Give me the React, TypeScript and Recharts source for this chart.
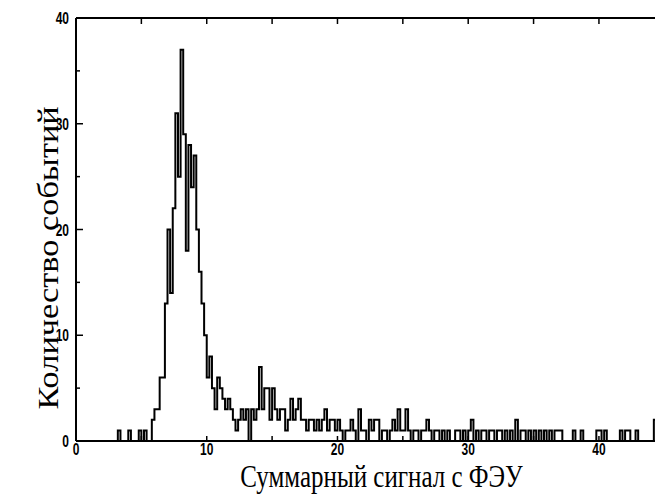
import React from 'react';
import { LineChart, Line, XAxis, YAxis, Label } from 'recharts';

const BIN_WIDTH = 0.2;
// event counts per 0.2-unit bin, starting at 0
const counts: number[] = [
  0, 0, 0, 0, 0, 0, 0, 0, 0, 0,
  0, 0, 0, 0, 0, 0, 1, 0, 0, 0,
  1, 0, 0, 0, 1, 0, 1, 0, 0, 2,
  3, 3, 6, 6, 13, 20, 14, 22, 31, 25,
  37, 29, 18, 28, 24, 27, 20, 16, 13, 10,
  6, 8, 5, 3, 6, 5, 4, 3, 4, 3,
  2, 1, 2, 3, 2, 3, 0, 3, 2, 3,
  7, 3, 5, 5, 2, 5, 3, 2, 3, 3,
  1, 2, 4, 2, 3, 4, 2, 2, 1, 2,
  2, 1, 2, 1, 2, 3, 1, 2, 2, 1,
  2, 1, 0, 1, 1, 2, 1, 0, 3, 1,
  1, 0, 2, 1, 2, 2, 0, 1, 1, 0,
  1, 2, 1, 3, 1, 1, 3, 1, 0, 1,
  1, 0, 1, 1, 2, 1, 0, 1, 1, 0,
  1, 0, 1, 0, 0, 1, 1, 0, 1, 0,
  1, 2, 0, 1, 0, 1, 1, 0, 1, 1,
  0, 1, 1, 0, 1, 0, 1, 0, 2, 0,
  1, 1, 0, 1, 0, 1, 0, 1, 0, 1,
  0, 1, 0, 1, 1, 1, 0, 0, 0, 0,
  1, 0, 0, 1, 0, 0, 0, 0, 0, 1,
  1, 0, 1, 0, 0, 0, 0, 0, 1, 0,
  1, 1, 0, 0, 1, 0, 0, 0, 0, 0,
  0, 2, 1, 0,
];

const xTicks = [0, 5, 10, 15, 20, 25, 30, 35, 40];
const xTickLabels = [0, 10, 20, 30, 40];
const yTicks = [0, 5, 10, 15, 20, 25, 30, 35, 40];
const yTickLabels = [0, 10, 20, 30, 40];
const X_MAX = 44.9;
const xTitle = 'Суммарный сигнал с ФЭУ';
const yTitle = 'Количество событий';

const data = counts.map((c, i) => ({ x: Math.round(i * BIN_WIDTH * 10) / 10, y: c }));
data.push({ x: Math.round(counts.length * BIN_WIDTH * 10) / 10, y: 0 });

const STRETCH = 1.3;
const tickFont = '"Liberation Sans", Arial, sans-serif';
const titleFont = '"Liberation Serif", "Times New Roman", serif';

const BottomTick = (props: any) => {
  const { x, y, payload } = props;
  const v = payload.value;
  const major = xTickLabels.includes(v);
  return (
    <g>
      <line x1={x} y1={y} x2={x} y2={y - 5} stroke="#000" strokeWidth={1.5} />
      {major && (
        <text
          transform={`translate(${x},${y + 14}) scale(1,${STRETCH})`}
          textAnchor="middle"
          fontFamily={tickFont}
          fontWeight="bold"
          fontSize={12}
          fill="#000"
        >
          {v}
        </text>
      )}
    </g>
  );
};

const TopTick = (props: any) => {
  const { x, y } = props;
  return <line x1={x} y1={y} x2={x} y2={y + 6} stroke="#000" strokeWidth={1.5} />;
};

const LeftTick = (props: any) => {
  const { x, y, payload } = props;
  const v = payload.value;
  const major = yTickLabels.includes(v);
  return (
    <g>
      <line x1={x} y1={y} x2={x + (major ? 7 : 4)} y2={y} stroke="#000" strokeWidth={1.5} />
      {major && (
        <text
          transform={`translate(${x - 7},${y + 6}) scale(1,${STRETCH})`}
          textAnchor="end"
          fontFamily={tickFont}
          fontWeight="bold"
          fontSize={12}
          fill="#000"
        >
          {v}
        </text>
      )}
    </g>
  );
};

const XTitle = (props: any) => {
  const vb = props.viewBox || { x: 68, y: 433, width: 587 };
  const cx = vb.x + vb.width / 2 + 12;
  const by = vb.y + 46;
  return (
    <text
      transform={`translate(${cx},${by}) scale(1,1.3)`}
      textAnchor="middle"
      fontFamily={titleFont}
      fontSize={25}
      fill="#000"
    >
      {xTitle}
    </text>
  );
};

const YTitle = () => {
  const bx = 50;
  const cy = 250;
  return (
    <text
      transform={`translate(${bx},${cy}) scale(1.2,1.43) rotate(-90)`}
      textAnchor="middle"
      fontFamily={titleFont}
      fontSize={24}
      fill="#000"
    >
      {yTitle}
    </text>
  );
};

export default function App() {
  return (
    <div style={{ width: 655, height: 487, background: '#fff' }}>
      <LineChart
        width={655}
        height={487}
        data={data}
        margin={{ top: 9, right: 0, bottom: 0, left: 0 }}
      >
        <XAxis
          xAxisId="top"
          orientation="top"
          dataKey="x"
          type="number"
          domain={[0, X_MAX]}
          allowDataOverflow
          ticks={xTicks}
          interval={0}
          height={1}
          tickSize={0}
          tickMargin={0}
          tick={TopTick}
          axisLine={{ stroke: '#000', strokeWidth: 2 }}
          tickLine={false}
        />
        <XAxis
          dataKey="x"
          type="number"
          domain={[0, X_MAX]}
          allowDataOverflow
          ticks={xTicks}
          interval={0}
          height={54}
          tickSize={0}
          tickMargin={0}
          tick={BottomTick}
          axisLine={{ stroke: '#000', strokeWidth: 2 }}
          tickLine={false}
        >
          <Label content={XTitle} />
        </XAxis>
        <YAxis
          dataKey="y"
          type="number"
          domain={[0, 40]}
          ticks={yTicks}
          interval={0}
          width={68}
          tickSize={0}
          tickMargin={0}
          tick={LeftTick}
          axisLine={{ stroke: '#000', strokeWidth: 2 }}
          tickLine={false}
        >
          <Label content={YTitle} />
        </YAxis>
        <Line
          xAxisId={0}
          dataKey="y"
          type="stepAfter"
          stroke="#000"
          strokeWidth={2}
          dot={false}
          activeDot={false}
          isAnimationActive={false}
        />
      </LineChart>
    </div>
  );
}
